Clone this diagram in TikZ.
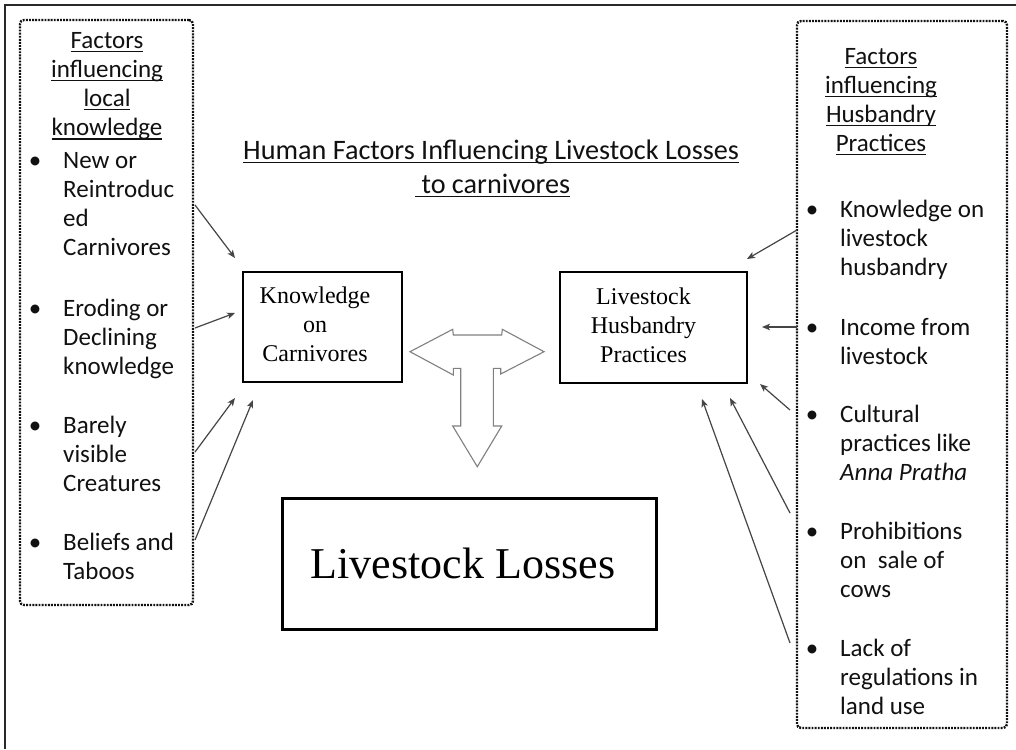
\documentclass[tikz,border=0pt]{standalone}
\usepackage{fontspec}
\setmainfont{Liberation Serif}
\newfontfamily\calfont{Carlito}
\usetikzlibrary{arrows.meta}
\newlength\ulwd
\newcommand{\ul}[1]{\settowidth{\ulwd}{#1}\rlap{\rule[-3.5pt]{\ulwd}{1.4pt}}#1}
\newcommand{\tul}[1]{\settowidth{\ulwd}{#1}\rlap{\rule[-4pt]{\ulwd}{1.5pt}}#1}
\newcommand{\lns}[1]{\begin{tabular}[t]{@{}l@{}}#1\end{tabular}}
\newcommand{\clns}[1]{\begin{tabular}[t]{@{}c@{}}#1\end{tabular}}
\newcommand{\mlns}[1]{\begin{tabular}{@{}c@{}}#1\end{tabular}}
\newcommand{\lfont}{\calfont\fontsize{25}{29}\selectfont}
\definecolor{ink}{HTML}{111111}
\definecolor{arr}{HTML}{454545}
\begin{document}
\begin{tikzpicture}[x=1pt,y=-1pt,
  frame/.style={draw=ink!90, line width=2.6pt},
  dotbox/.style={draw=ink, line width=2.4pt, dash pattern=on 1.9pt off 1.2pt, rounded corners=4pt, minimum width=#1},
  solidbox/.style={draw=black, line width=2.7pt, inner sep=0pt},
  item/.style={anchor=base west, inner sep=0pt, font=\lfont, text=ink},
  bul/.style={anchor=base, inner sep=0pt, font=\lfont, text=ink},
  head/.style={anchor=base, inner sep=0pt, font=\lfont, text=ink},
  ttl/.style={anchor=base west, inner sep=0pt, font=\calfont\fontsize{28.2}{32}\selectfont, text=ink},
  link/.style={draw=arr, line width=1.2pt, -{Stealth[length=8pt,width=6.5pt,inset=2pt]}},
  tee/.style={draw=black!50, line width=1.1pt, fill=white, line join=miter}
]
\useasboundingbox[fill=white] (0,0) rectangle (1016,749);
% outer frame
\draw[frame] (5,749) -- (5,5) -- (1016,5);

% dotted boxes
\node[dotbox=173pt, minimum height=585pt] (lbox) at (106.5,312.5) {};
\node[dotbox=210pt, minimum height=707pt] (rbox) at (902,374.5) {};

% left list
\node[head] (lhead) at (107,49) {\clns{\ul{Factors}\\\ul{influencing}\\\ul{local}\\\ul{knowledge}}};
\node[bul] (lb1) at (35,168) {•};
\node[item] (li1) at (63,168) {\lns{New or\\Reintroduc\\ed\\Carnivores}};
\node[bul] (lb2) at (35,316) {•};
\node[item] (li2) at (63,316) {\lns{Eroding or\\Declining\\knowledge}};
\node[bul] (lb3) at (35,433) {•};
\node[item] (li3) at (63,433) {\lns{Barely\\visible\\Creatures}};
\node[bul] (lb4) at (35,550) {•};
\node[item] (li4) at (63,550) {\lns{Beliefs and\\Taboos}};

% right list
\node[head] (rhead) at (881,65) {\clns{\ul{Factors}\\\ul{influencing}\\\ul{Husbandry}\\\ul{Practices}}};
\node[bul] (rb1) at (812,217) {•};
\node[item] (ri1) at (840,217) {\lns{Knowledge on\\livestock\\husbandry}};
\node[bul] (rb2) at (812,335) {•};
\node[item] (ri2) at (840,335) {\lns{Income from\\livestock}};
\node[bul] (rb3) at (812,422) {•};
\node[item] (ri3) at (840,422) {\lns{Cultural\\practices like\\\textit{Anna Pratha}}};
\node[bul] (rb4) at (812,539) {•};
\node[item] (ri4) at (840,539) {\lns{Prohibitions\\on\ \ sale of\\cows}};
\node[bul] (rb5) at (812,656) {•};
\node[item] (ri5) at (840,656) {\lns{Lack of\\regulations in\\land use}};

% title
\node[ttl] (t1) at (243,159) {\tul{Human Factors Influencing Livestock Losses}};
\node[ttl] (t2) at (415,193) {\tul{\ to carnivores}};

% central boxes
\node[solidbox, minimum width=159pt, minimum height=110pt, font=\fontsize{24}{29}\selectfont] (know) at (322.5,327) {\mlns{Knowledge\\on\\Carnivores}\hspace*{15pt}};
\node[solidbox, minimum width=187pt, minimum height=111pt, font=\fontsize{24}{29}\selectfont] (husb) at (653.5,327.5) {\mlns{Livestock\\Husbandry\\Practices}\hspace*{20pt}};
\node[solidbox, line width=3pt, minimum width=374pt, minimum height=131pt, font=\fontsize{44}{50}\selectfont] (loss) at (469,563.5) {Livestock Losses\hspace*{12pt}};

% T-shaped block arrow
\draw[tee] (410,351.7) -- (452.7,329.3) -- (453.3,335) -- (501.7,335) -- (502.3,329.3)
  -- (544,351.7) -- (500.7,374) -- (500.7,368.3) -- (493.3,368.3) -- (493.3,426)
  -- (501.7,426) -- (477.3,466.7) -- (452.7,426) -- (460.7,426) -- (460.7,368.3)
  -- (453.3,368.3) -- (453.3,375) -- cycle;

% arrow end points
\coordinate (l1s) at (195,205); \coordinate (l1e) at (235,258);
\coordinate (l2s) at (195,328); \coordinate (l2e) at (235,313);
\coordinate (l3s) at (195,452); \coordinate (l3e) at (235,398);
\coordinate (l4s) at (195,540); \coordinate (l4e) at (253,400);
\coordinate (r1s) at (797,230); \coordinate (r1e) at (747,259);
\coordinate (r2s) at (797,327); \coordinate (r2e) at (762,327);
\coordinate (r3s) at (790,410); \coordinate (r3e) at (760,384);
\coordinate (r4s) at (790,513); \coordinate (r4e) at (730,398);
\coordinate (r5s) at (790,643); \coordinate (r5e) at (702,399);

\foreach \a in {l1,l2,l3,l4,r1,r2,r3,r4,r5}{
  \draw[link] (\a s) -- (\a e);
}
\end{tikzpicture}
\end{document}
